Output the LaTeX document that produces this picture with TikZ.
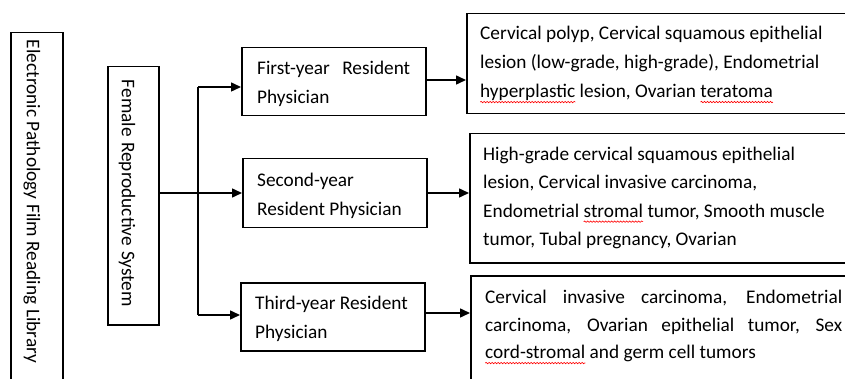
\documentclass[tikz,border=0pt]{standalone}
\usepackage{fontspec}
\setmainfont{Carlito}
\usetikzlibrary{arrows.meta,decorations.pathmorphing}
\newsavebox\wavebox
\newcommand\spellwave[1]{\sbox\wavebox{#1}\leavevmode\rlap{\usebox\wavebox}\begin{tikzpicture}[baseline=0pt,x=1pt,y=1pt]\useasboundingbox (0pt,0pt) rectangle (\the\wd\wavebox,0pt);\draw[red,line width=0.6pt,decorate,decoration={snake,amplitude=0.7pt,segment length=3pt}] (0pt,-4.5pt) -- (\the\wd\wavebox,-4.5pt);\end{tikzpicture}}
\begin{document}
\begin{tikzpicture}[x=1pt,y=-1pt,
  box/.style={draw, line width=1.5pt, inner sep=0pt},
  txt/.style={font=\fontsize{19.3}{28.8}\selectfont, inner sep=0pt, align=left},
  ln/.style={line width=1.5pt},
  arr/.style={line width=1.5pt, -{Triangle[length=10pt,width=9pt]}}]
\useasboundingbox (0,0) rectangle (845,379);
\clip (0,0) rectangle (845,379);
% outer library box
\node[box, anchor=north west, minimum width=52, minimum height=380] (lib) at (10,32) {};
\node[txt, rotate=-90] (libt) at (32,201.5) {\makebox[323pt][s]{Electronic Pathology Film Reading Library}};
% female box
\node[box, anchor=north west, minimum width=51, minimum height=258] (fem) at (107,66) {};
\node[txt, rotate=-90] (femt) at (127,193.5) {\makebox[227pt][s]{Female Reproductive System}};
% resident boxes
\node[box, anchor=north west, minimum width=184, minimum height=68] (fy) at (241,47) {};
\node[txt, anchor=west] (fyt) at (257,84) {\makebox[153pt][s]{First-year Resident}\\Physician};
\node[box, anchor=north west, minimum width=184, minimum height=69] (sy) at (242,158) {};
\node[txt, anchor=west] (syt) at (257,196) {Second-year\\Resident Physician};
\node[box, anchor=north west, minimum width=184, minimum height=68] (ty) at (240,282) {};
\node[txt, anchor=west] (tyt) at (255,319) {Third-year Resident\\Physician};
% disease boxes
\node[box, anchor=north west, minimum width=390, minimum height=100] (d1) at (466,13) {};
\node[txt, anchor=west, font=\fontsize{19.3}{29}\selectfont] (d1t) at (480,63.4) {Cervical polyp, Cervical squamous epithelial\\lesion (low-grade, high-grade), Endometrial\\\spellwave{hyperplastic} lesion, Ovarian \spellwave{teratoma}};
\node[box, anchor=north west, minimum width=390, minimum height=129] (d2) at (469,133) {};
\node[txt, anchor=west, font=\fontsize{19.3}{28.3}\selectfont] (d2t) at (483,198) {High-grade cervical squamous epithelial\\lesion, Cervical invasive carcinoma,\\Endometrial \spellwave{stromal} tumor, Smooth muscle\\tumor, Tubal pregnancy, Ovarian};
\node[box, anchor=north west, minimum width=390, minimum height=130] (d3) at (470,275) {};
\node[txt, anchor=west, font=\fontsize{19.3}{27.5}\selectfont] (d3t) at (485,326) {\makebox[357pt][s]{Cervical invasive carcinoma, Endometrial}\\\makebox[357pt][s]{carcinoma, Ovarian epithelial tumor, Sex}\\\spellwave{cord-stromal} and germ cell tumors};
% connectors
\coordinate (s1) at (198,87);
\coordinate (s2) at (198,193);
\coordinate (s3) at (198,315);
\draw[ln] (s2 -| fem.east) -- (s2);
\draw[ln] (s1) -- (s3);
\draw[arr] (s1) -- (s1 -| fy.west);
\draw[arr] (s2) -- (s2 -| sy.west);
\draw[arr] (s3) -- (s3 -| ty.west);
\coordinate (o1) at (430,80);
\coordinate (o2) at (430,193);
\coordinate (o3) at (430,313);
\draw[arr] (o1 -| fy.east) -- (o1 -| d1.west);
\draw[arr] (o2 -| sy.east) -- (o2 -| d2.west);
\draw[arr] (o3 -| ty.east) -- (o3 -| d3.west);
\end{tikzpicture}
\end{document}
